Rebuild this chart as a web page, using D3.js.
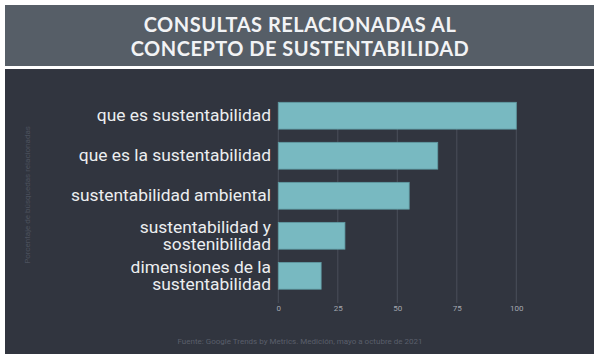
<!DOCTYPE html>
<html><head><meta charset="utf-8">
<script src="https://cdn.jsdelivr.net/npm/d3@7"></script>
<style>html,body{margin:0;padding:0;background:#fff;}svg{display:block;}</style>
</head><body>
<svg id="c" width="600" height="360"></svg>
<script>
const categories = [
  ["que es sustentabilidad"],
  ["que es la sustentabilidad"],
  ["sustentabilidad ambiental"],
  ["sustentabilidad y", "sostenibilidad"],
  ["dimensiones de la", "sustentabilidad"]
];
const values = [100, 67, 55, 28, 18];
const tickValues = [0, 25, 50, 75, 100];
const titleLines = ["CONSULTAS RELACIONADAS AL", "CONCEPTO DE SUSTENTABILIDAD"];
const yTitle = "Porcentaje de búsquedas relacionadas";
const source = "Fuente: Google Trends by Metrics. Medición, mayo a octubre de 2021";

const svg = d3.select("#c");
svg.append("rect").attr("x",0).attr("y",0).attr("width",600).attr("height",360).attr("fill","#ffffff");
svg.append("rect").attr("x",5).attr("y",5).attr("width",589).attr("height",61).attr("fill","#565e67");
svg.append("rect").attr("x",5).attr("y",69).attr("width",589).attr("height",285).attr("fill","#31353f");

svg.selectAll("text.title").data(titleLines).enter().append("text")
  .attr("class","title")
  .attr("x",300).attr("y",(d,i)=>32+i*24)
  .attr("text-anchor","middle")
  .attr("font-family","Lato, 'Open Sans', sans-serif")
  .attr("font-weight","700")
  .attr("font-size",20)
  .attr("letter-spacing",0.5)
  .attr("fill","#f2f3f5")
  .text(d=>d);

const x = d3.scaleLinear().domain([0,100]).range([278.3,516.3]);
const idx = categories.map((d,i)=>i);
const y = d3.scaleBand().domain(idx).range([95.5,296]).paddingInner(0.33).paddingOuter(0.17);

svg.append("g").selectAll("line").data(tickValues).enter().append("line")
  .attr("x1",d=>x(d)).attr("x2",d=>x(d))
  .attr("y1",102).attr("y2",303)
  .attr("stroke","#4a4f5a").attr("stroke-width",1);

svg.append("g").selectAll("rect").data(values).enter().append("rect")
  .attr("x",x(0))
  .attr("y",(d,i)=>y(i))
  .attr("width",d=>x(d)-x(0))
  .attr("height",y.bandwidth())
  .attr("fill","#78b9c1")
  .attr("stroke","#5f9aa2").attr("stroke-width",0.8);

const xAxis = d3.axisBottom(x).tickValues(tickValues).tickSize(0).tickPadding(0).tickFormat(d3.format("d"));
const gx = svg.append("g").attr("transform","translate(0,305)").call(xAxis);
gx.select(".domain").remove();
gx.selectAll("text").attr("font-family","Roboto, sans-serif").attr("font-size",8).attr("fill","#a4a8b0").attr("dy","0.71em");

const lab = svg.append("g").selectAll("text").data(categories).enter().append("text")
  .attr("text-anchor","end")
  .attr("font-family","Roboto, sans-serif")
  .attr("font-size",17.4)
  .attr("fill","#eceef0");
lab.each(function(d,i){
  const t = d3.select(this);
  const cy = y(i)+y.bandwidth()/2;
  const n = d.length;
  d.forEach((line,j)=>{
    t.append("tspan").attr("x",271).attr("y",cy + (j-(n-1)/2)*16.5).attr("dy","0.32em").text(line);
  });
});

svg.append("text")
  .attr("transform","translate(30,195) rotate(-90)")
  .attr("text-anchor","middle")
  .attr("font-family","Roboto, sans-serif")
  .attr("font-size",8)
  .attr("fill","#4c515d")
  .text(yTitle);

svg.append("text")
  .attr("x",300).attr("y",344)
  .attr("text-anchor","middle")
  .attr("font-family","Roboto, sans-serif")
  .attr("font-size",8)
  .attr("fill","#5a5f6b")
  .text(source);
</script>
</body></html>
